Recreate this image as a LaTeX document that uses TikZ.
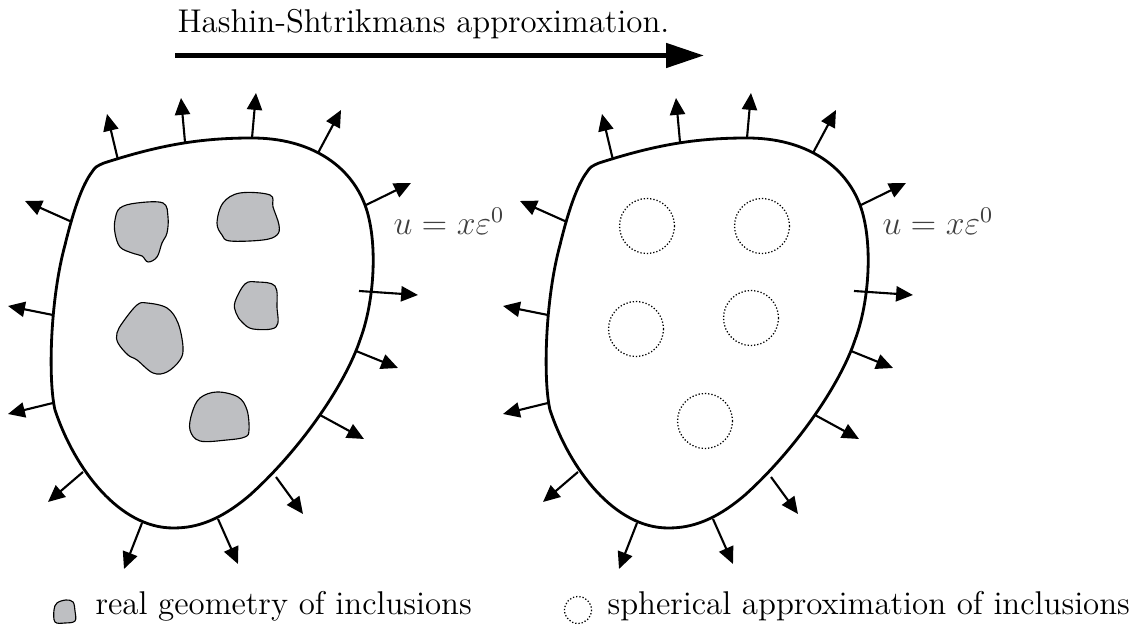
\documentclass[tikz,border=0pt]{standalone}
\usetikzlibrary{arrows.meta}
\definecolor{inclgray}{RGB}{190,191,194}
\tikzset{
    boundary/.style  = {draw=black, line width=1pt, line join=round},
    normal/.style    = {-{Triangle[length=6pt, width=5.4pt]}, line width=0.75pt},
    bigarrow/.style  = {-{Triangle[length=13.5pt, width=8.5pt]}, line width=1.8pt},
    inclusion/.style = {draw=black, line width=0.4pt, fill=inclgray},
    sphere/.style    = {draw=black, line width=0.45pt, dash pattern=on 0.45pt off 0.7pt},
    lbl/.style       = {font=\fontsize{11.7}{14}\selectfont, anchor=base west, inner sep=0pt},
    pics/body/.style = {code={
        \draw[boundary] (92,172) .. controls (95,167) and (97,166) .. (104,163)
            .. controls (160,145) and (200,138) .. (252,138)
            .. controls (310,138) and (350,165) .. (365,205)
            .. controls (378,240) and (375,300) .. (360,340)
            .. controls (345,385) and (300,450) .. (250,495)
            .. controls (215,525) and (190,528) .. (173,528)
            .. controls (120,528) and (75,470) .. (55,410)
            .. controls (48,380) and (50,300) .. (65,245)
            .. controls (73,212) and (82,185) .. (92,172) -- cycle;
        \foreach \ax/\ay/\bx/\by in {118/160/107/114, 185/142/181/98, 252/138/256/93,
                318/153/341/110, 366/205/411/183, 359/291/418/295, 356/351/398/368,
                72/222/25/201, 53/315/8/306, 53/403/8/414, 83/472/48/502,
                142/523/124/569, 218/519/238/564, 276/477/303/514, 320/415/364/439}
            \draw[normal] (\ax,\ay) -- (\bx,\by);
    }}
}

\begin{document}
\begin{tikzpicture}[x=0.0125cm, y=-0.0125cm]
    \useasboundingbox (0,0) rectangle (1143,625);
    % title arrow
    \node[lbl] (title) at (177,33) {Hashin-Shtrikmans approximation.};
    \coordinate (arrowstart) at (175,55.5);
    \coordinate (arrowend)   at (704,55.5);
    \draw[bigarrow] (arrowstart) -- (arrowend);
    % two bodies
    \pic at (0,0)   {body};
    \pic at (495,0) {body};
    \node[lbl, text=black!75] (loadleft)  at (393,235) {$u = x\varepsilon^0$};
    \node[lbl, text=black!75] (loadright) at (882,235) {$u = x\varepsilon^0$};
    % real inclusions
    \draw[inclusion] plot[smooth cycle, tension=0.6] coordinates {(115,220) (120,208) (137,203) (163,203)
        (168,217) (167,233) (162,243) (157,257) (148,262) (142,256) (132,253) (120,247) (115,233)};
    \draw[inclusion] plot[smooth cycle, tension=0.6] coordinates {(217,223) (223,203) (240,193) (270,195)
        (273,207) (279,225) (277,235) (263,240) (230,241) (222,235)};
    \draw[inclusion] plot[smooth cycle, tension=0.6] coordinates {(235,302) (245,284) (257,282) (275,286)
        (277,307) (276,327) (253,329) (242,322) (236,313)};
    \draw[inclusion] plot[smooth cycle, tension=0.6] coordinates {(117,333) (123,322) (137,305) (147,303)
        (167,308) (178,323) (183,347) (180,360) (167,372) (153,373) (137,360) (128,355) (118,343)};
    \draw[inclusion] plot[smooth cycle, tension=0.6] coordinates {(190,430) (192,413) (200,398) (217,392)
        (238,397) (247,410) (249,430) (245,437) (227,440) (200,441)};
    % spherical inclusions
    \foreach \cx/\cy in {647/226, 762/226, 636/329, 751/318, 705/421}
        \draw[sphere] (\cx,\cy) circle[radius=27.5];
    % legend
    \draw[inclusion] plot[smooth cycle, tension=0.6] coordinates {(54,610) (57,603) (66,600) (73,602)
        (75,611) (75,621) (65,623) (55,622)};
    \node[lbl] (realleg) at (95,615) {real geometry of inclusions};
    \draw[sphere] (578,610) circle[radius=13.5];
    \node[lbl] (sphleg) at (607,615) {spherical approximation of inclusions};
\end{tikzpicture}
\end{document}
